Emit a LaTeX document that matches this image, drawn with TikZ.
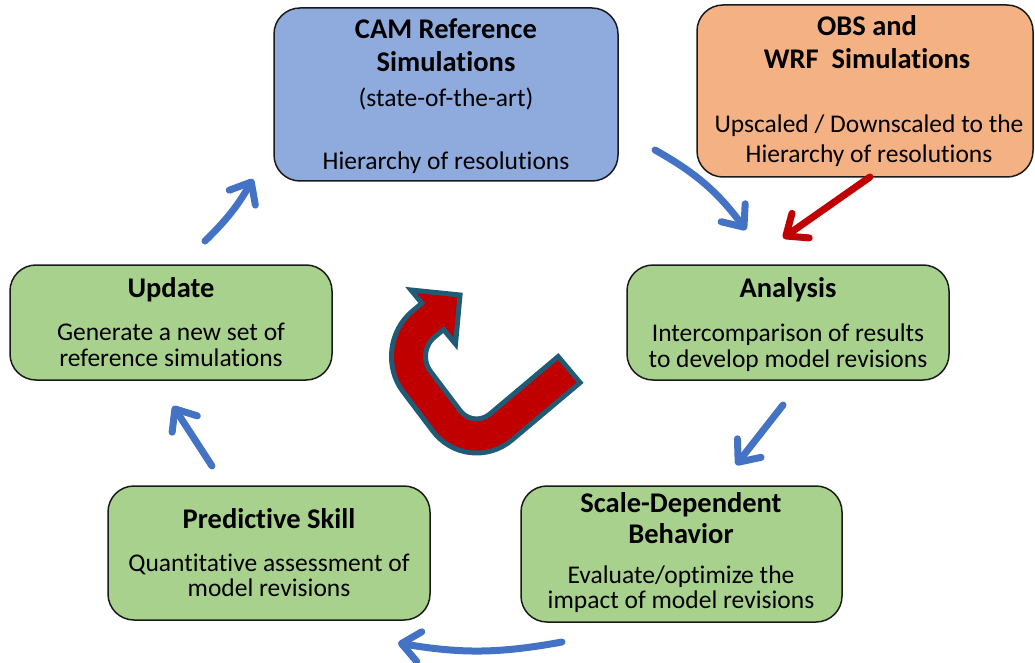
\documentclass[tikz,border=0pt]{standalone}
\usepackage{fontspec}
\setmainfont{Carlito}[Ligatures=NoCommon]
\usetikzlibrary{arrows.meta}
\definecolor{camblue}{HTML}{8FAADC}
\definecolor{obsorange}{HTML}{F4B183}
\definecolor{stepgreen}{HTML}{A9D18E}
\definecolor{flowblue}{HTML}{4472C4}
\definecolor{feedred}{HTML}{C00000}
\definecolor{uturnedge}{HTML}{1F5B74}
\definecolor{boxline}{HTML}{1A1A1A}
\begin{document}
\begin{tikzpicture}[x=1pt,y=-1pt,
  box/.style={draw=boxline, line width=1.5pt, rounded corners=26pt, inner sep=0pt},
  ttl/.style={font=\fontsize{28.5}{32}\selectfont\bfseries, anchor=base, inner sep=0pt},
  txt/.style={font=\fontsize{25.5}{30}\selectfont, anchor=base, inner sep=0pt},
  flow/.style={draw=flowblue, line width=7pt, line cap=round,
    -{Straight Barb[round,length=18pt,width=30pt]}},
  feed/.style={flow, draw=feedred}]
\useasboundingbox[fill=white] (0,0) rectangle (1035,663);

% ---- boxes ----
\node[box, fill=camblue, minimum width=344pt, minimum height=173pt] (cam) at (446,94.5) {};
\node[box, fill=obsorange, minimum width=336pt, minimum height=172pt] (obs) at (865,91) {};
\node[box, fill=stepgreen, minimum width=322pt, minimum height=115pt] (ana) at (788,322.5) {};
\node[box, fill=stepgreen, minimum width=322pt, minimum height=115pt] (upd) at (171,322.5) {};
\node[box, fill=stepgreen, minimum width=322pt, minimum height=134pt] (pred) at (269,553) {};
\node[box, fill=stepgreen, minimum width=321pt, minimum height=136pt] (scale) at (681.5,554) {};

% ---- texts ----
\node[ttl] (camt1) at (446,39) {CAM Reference};
\node[ttl] (camt2) at (446,72) {Simulations};
\node[txt] (camb1) at (446,107) {(state-of-the-art)};
\node[txt] (camb2) at (446,170) {Hierarchy of resolutions};

\node[ttl] (obst1) at (867,36) {OBS and};
\node[ttl] (obst2) at (867,69) {WRF~~Simulations};
\node[txt] (obsb1) at (869,133) {Upscaled / Downscaled to the};
\node[txt] (obsb2) at (869,163) {Hierarchy of resolutions};

\node[ttl] (anat) at (788,297) {Analysis};
\node[txt] (anab1) at (788,341) {Intercomparison of results};
\node[txt] (anab2) at (788,367) {to develop model revisions};

\node[ttl] (updt) at (171,297) {Update};
\node[txt] (updb1) at (171,340) {Generate a new set of};
\node[txt] (updb2) at (171,366) {reference simulations};

\node[ttl] (predt) at (269,528) {Predictive Skill};
\node[txt] (predb1) at (269,571) {Quantitative assessment of};
\node[txt] (predb2) at (269,596) {model revisions};

\node[ttl] (scalet1) at (681,512) {Scale-Dependent};
\node[ttl] (scalet2) at (681,543) {Behavior};
\node[txt] (scaleb1) at (681,583) {Evaluate/optimize the};
\node[txt] (scaleb2) at (681,608) {impact of model revisions};

% ---- cycle arrows ----
\coordinate (updout) at (205,241);
\coordinate (camin) at (253,179);
\coordinate (camout) at (655,150);
\coordinate (anain) at (746,230);
\coordinate (obsout) at (870,177);
\coordinate (anainr) at (783,238);
\coordinate (anaout) at (783,405);
\coordinate (scalein) at (736,465);
\coordinate (scaleout) at (562,642);
\coordinate (predin) at (398,643);
\coordinate (predout) at (212,466);
\coordinate (updin) at (173,406);

\draw[flow] (updout) to[bend right=8] (camin);
\draw[flow] (camout) to[bend left=12] (anain);
\draw[feed] (obsout) -- (anainr);
\draw[flow] (anaout) -- (scalein);
\draw[flow] (scaleout) to[bend left=10] (predin);
\draw[flow] (predout) -- (updin);

% ---- central U-turn arrow ----
\draw[uturnedge, line width=39pt, rounded corners=40pt]
  (571,368) -- (470.5,452.6) -- (392.7,349.7) -- (432,317);
\filldraw[fill=feedred, draw=uturnedge, line width=5pt, line join=miter]
  (460,295) -- (411,290) -- (455.5,344) -- cycle;
\draw[feedred, line width=29pt, rounded corners=40pt]
  (567.2,371.2) -- (470.5,452.6) -- (392.7,349.7) -- (439.7,310.6);
\end{tikzpicture}
\end{document}
